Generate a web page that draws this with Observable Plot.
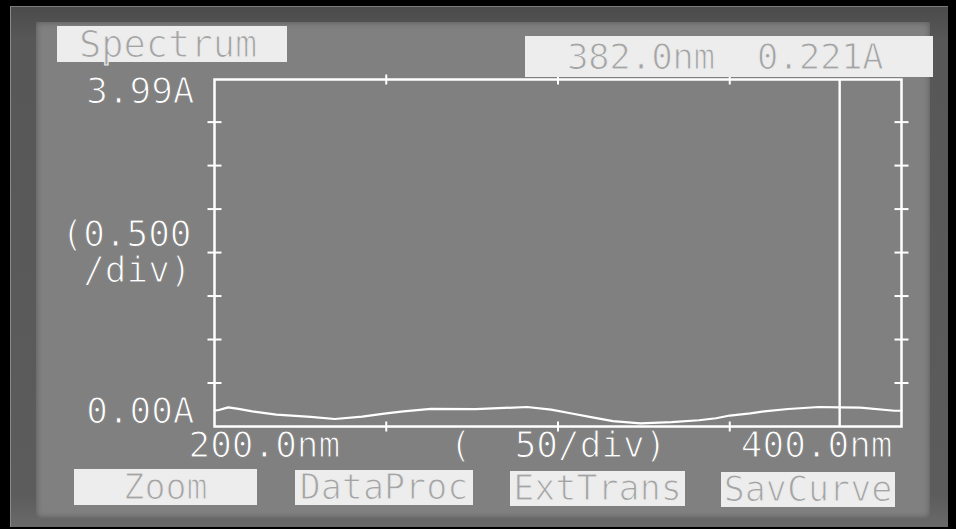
<!DOCTYPE html>
<html>
<head>
<meta charset="utf-8">
<script src="https://cdn.jsdelivr.net/npm/d3@7"></script>
<script src="https://cdn.jsdelivr.net/npm/@observablehq/plot@0.6"></script>
<style>
  html, body { margin: 0; padding: 0; background: #000; overflow: hidden; }
  #wrap { position: relative; width: 956px; height: 529px; background: #000; }
  #bezel {
    position: absolute; left: 10px; top: 6px; width: 938px; height: 521px;
    background: linear-gradient(180deg, #4b4b4b 0%, #575757 6%, #5c5c5c 94%, #6a6a6a 100%);
    border-left: 1px solid #8a8a8a; border-top: 1px solid #7a7a7a;
    box-sizing: border-box;
  }
  #screen {
    position: absolute; left: 36px; top: 22px; width: 894px; height: 496px;
    background: #808080;
    box-shadow: inset 0 0 6px rgba(0,0,0,0.35);
  }
  #chart { position: absolute; left: 0; top: 0; }
  #chart svg text { paint-order: normal; }
  .box {
    position: absolute; background: #ededed; color: #a4a4a4;
    font-family: "DejaVu Sans Mono", monospace; font-size: 35px;
    display: flex; align-items: center; justify-content: center;
    -webkit-text-stroke: 1.1px #ededed; white-space: pre; line-height: 1;
  }
</style>
</head>
<body>
<div id="wrap">
  <div id="bezel"></div>
  <div id="screen"></div>
  <div id="chart"></div>
</div>
<script>
// Absorbance trace (nm, A) as shown on the instrument display
const wavelength = [200, 201, 204, 207, 211, 218, 228, 235, 243, 250, 255, 263, 276, 291, 298,
  304, 310, 316, 324, 333, 341, 346, 350, 356, 360, 367, 376, 382, 388, 398, 400];
const absorbance = [0.185, 0.187, 0.220, 0.202, 0.173, 0.137, 0.111, 0.086, 0.114, 0.151, 0.174,
  0.202, 0.200, 0.224, 0.194, 0.149, 0.104, 0.062, 0.035, 0.050, 0.072, 0.095, 0.126, 0.150,
  0.173, 0.201, 0.224, 0.221, 0.217, 0.181, 0.181];

// Cursor readout
const cursorNm = 382.0;
const cursorAbs = 0.221;

// Scale ends and divisions
const xRange = [200, 400];
const yRange = [0, 3.99];
const xDivs = [250, 300, 350];
const yDivs = [0.5, 1.0, 1.5, 2.0, 2.5, 3.0, 3.5];

// Labels
const yTopLabel = "3.99A";
const yBottomLabel = "0.00A";
const yDivLabel = "(0.500\n /div)";
const xLeftLabel = "200.0nm";
const xRightLabel = "400.0nm";
const xDivLabel = "(  50/div)";
const modeTitle = "Spectrum";
const softKeys = ["Zoom", "DataProc", "ExtTrans", "SavCurve"];

const screenGray = "#808080";
const lcd = "#ffffff";
const lcdFont = "'DejaVu Sans Mono', monospace";

const trace = wavelength.map((nm, i) => ({nm, a: absorbance[i]}));

// Short line segments used as tick marks crossing the frame
const hTick = {draw(ctx, size) { const r = Math.sqrt(size / Math.PI); ctx.moveTo(-r, 0); ctx.lineTo(r, 0); }};
const vTick = {draw(ctx, size) { const r = Math.sqrt(size / Math.PI); ctx.moveTo(0, -r); ctx.lineTo(0, r); }};

const textStyle = {fill: lcd, stroke: screenGray, strokeWidth: 1.1, fontSize: 36, fontFamily: lcdFont};

const chart = Plot.plot({
  width: 956,
  height: 529,
  marginLeft: 214,
  marginRight: 55,
  marginTop: 79,
  marginBottom: 103,
  x: {domain: xRange, axis: null},
  y: {domain: yRange, axis: null},
  style: {background: "transparent", fontFamily: lcdFont, overflow: "visible"},
  marks: [
    Plot.frame({stroke: lcd, strokeWidth: 2.5}),
    // division ticks on all four sides
    Plot.dot(yDivs, {x: xRange[0], y: d => d, symbol: hTick, r: 7, stroke: lcd, strokeWidth: 2}),
    Plot.dot(yDivs, {x: xRange[1], y: d => d, symbol: hTick, r: 7, stroke: lcd, strokeWidth: 2}),
    Plot.dot(xDivs, {x: d => d, y: yRange[0], symbol: vTick, r: 5, stroke: lcd, strokeWidth: 2}),
    Plot.dot(xDivs, {x: d => d, y: yRange[1], symbol: vTick, r: 5, stroke: lcd, strokeWidth: 2}),
    // cursor
    Plot.ruleX([cursorNm], {stroke: lcd, strokeWidth: 2.4}),
    // spectrum trace
    Plot.line(trace, {x: "nm", y: "a", stroke: lcd, strokeWidth: 2.2}),
    // scale labels
    Plot.text([yTopLabel], {x: xRange[0], y: yRange[1], text: d => d, textAnchor: "end", dx: -20, dy: 12, ...textStyle}),
    Plot.text([yBottomLabel], {x: xRange[0], y: yRange[0], text: d => d, textAnchor: "end", dx: -20, dy: -15, ...textStyle}),
    Plot.text([yDivLabel], {x: xRange[0], y: 2.0, text: d => d, textAnchor: "start", dx: -153, lineHeight: 1.0, ...textStyle}),
    Plot.text([xLeftLabel], {x: xRange[0], y: yRange[0], text: d => d, textAnchor: "start", dx: -26, dy: 19, ...textStyle}),
    Plot.text([xRightLabel], {x: xRange[1], y: yRange[0], text: d => d, textAnchor: "end", dx: -9, dy: 19, ...textStyle}),
    Plot.text([xDivLabel], {x: 300, y: yRange[0], text: d => d, textAnchor: "middle", dy: 19, ...textStyle})
  ]
});
document.getElementById("chart").appendChild(chart);

// Header boxes and soft-key labels
const wrap = document.getElementById("wrap");
function addBox(text, left, top, width, height, extra = {}) {
  const el = document.createElement("div");
  el.className = "box";
  el.textContent = text;
  Object.assign(el.style, {left: left + "px", top: top + "px", width: width + "px", height: height + "px"}, extra);
  wrap.appendChild(el);
  return el;
}
addBox(modeTitle, 57, 26, 230, 36, {fontSize: "37px", justifyContent: "flex-start", paddingLeft: "22px", boxSizing: "border-box"});
addBox(`${cursorNm.toFixed(1)}nm  ${cursorAbs.toFixed(3)}A`, 525, 36, 408, 41,
  {fontSize: "36px", letterSpacing: "-0.6px", justifyContent: "flex-start", paddingLeft: "42px", boxSizing: "border-box"});
const keyBoxes = [[74, 469, 183, 36], [295, 470, 178, 35], [510, 471, 175, 35], [721, 472, 174, 35]];
softKeys.forEach((k, i) => addBox(k, ...keyBoxes[i]));
</script>
</body>
</html>
